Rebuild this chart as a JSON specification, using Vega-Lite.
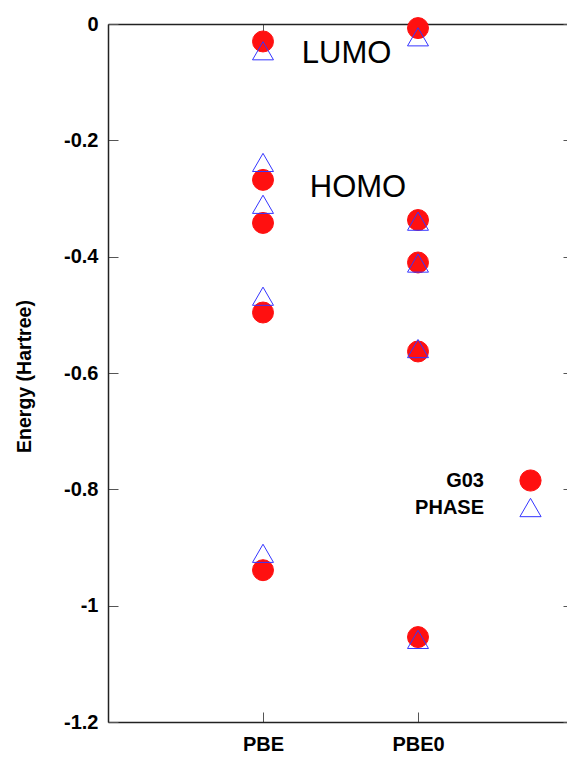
{
  "$schema": "https://vega.github.io/schema/vega-lite/v6.json",
  "autosize": {"type": "none"},
  "padding": {"left": 108, "top": 24, "right": -6, "bottom": 36},
  "width": 465,
  "height": 698,
  "background": "white",
  "config": {"view": {"stroke": null}, "font": "Liberation Sans"},
  "datasets": {
    "levels": [
      {"method": "PBE", "pos": 1, "series": "G03", "energy": -0.030},
      {"method": "PBE", "pos": 1, "series": "G03", "energy": -0.268},
      {"method": "PBE", "pos": 1, "series": "G03", "energy": -0.342},
      {"method": "PBE", "pos": 1, "series": "G03", "energy": -0.496},
      {"method": "PBE", "pos": 1, "series": "G03", "energy": -0.939},
      {"method": "PBE0", "pos": 2, "series": "G03", "energy": -0.007},
      {"method": "PBE0", "pos": 2, "series": "G03", "energy": -0.337},
      {"method": "PBE0", "pos": 2, "series": "G03", "energy": -0.410},
      {"method": "PBE0", "pos": 2, "series": "G03", "energy": -0.563},
      {"method": "PBE0", "pos": 2, "series": "G03", "energy": -1.054},
      {"method": "PBE", "pos": 1, "series": "PHASE", "energy": -0.046},
      {"method": "PBE", "pos": 1, "series": "PHASE", "energy": -0.238},
      {"method": "PBE", "pos": 1, "series": "PHASE", "energy": -0.310},
      {"method": "PBE", "pos": 1, "series": "PHASE", "energy": -0.468},
      {"method": "PBE", "pos": 1, "series": "PHASE", "energy": -0.910},
      {"method": "PBE0", "pos": 2, "series": "PHASE", "energy": -0.022},
      {"method": "PBE0", "pos": 2, "series": "PHASE", "energy": -0.339},
      {"method": "PBE0", "pos": 2, "series": "PHASE", "energy": -0.411},
      {"method": "PBE0", "pos": 2, "series": "PHASE", "energy": -0.558},
      {"method": "PBE0", "pos": 2, "series": "PHASE", "energy": -1.058}
    ],
    "notes": [
      {"label": "LUMO", "pos": 1.539, "energy": -0.067},
      {"label": "HOMO", "pos": 1.613, "energy": -0.2975}
    ]
  },
  "layer": [
    {
      "data": {"name": "levels"},
      "mark": {"type": "point", "opacity": 1, "strokeWidth": 1, "size": 440},
      "encoding": {
        "x": {
          "field": "pos", "type": "quantitative",
          "scale": {"domain": [0, 3], "nice": false, "zero": false},
          "axis": {
            "orient": "bottom", "values": [1, 2], "title": null, "grid": false,
            "labelExpr": "datum.value == 1 ? 'PBE' : 'PBE0'",
            "tickSize": -10, "tickColor": "#555", "tickWidth": 1,
            "domainColor": "#222", "domainWidth": 1.5,
            "labelFontSize": 20, "labelFontWeight": "bold", "labelColor": "#000",
            "labelFont": "Liberation Sans", "labelPadding": 22
          }
        },
        "y": {
          "field": "energy", "type": "quantitative",
          "scale": {"domain": [-1.2, 0], "nice": false, "zero": false},
          "axis": {
            "orient": "left", "values": [0, -0.2, -0.4, -0.6, -0.8, -1, -1.2],
            "grid": false,
            "labelExpr": "replace(format(datum.value, '~g'), '\u2212', '-')",
            "tickSize": -10, "tickColor": "#555", "tickWidth": 1,
            "domainColor": "#222", "domainWidth": 1.5,
            "labelFontSize": 20, "labelFontWeight": "bold", "labelColor": "#000",
            "labelFont": "Liberation Sans", "labelPadding": 20,
            "title": "Energy (Hartree)", "titleFontSize": 19.5, "titleFontWeight": "bold",
            "titleFont": "Liberation Sans", "titleColor": "#000",
            "titleX": -84, "titleY": 352, "titleAngle": -90,
            "titleAlign": "center", "titleBaseline": "middle"
          }
        },
        "shape": {
          "field": "series", "type": "nominal",
          "scale": {"domain": ["G03", "PHASE"], "range": ["circle", "triangle-up"]},
          "legend": {
            "orient": "none", "legendX": 411, "legendY": 445, "title": null,
            "labelFontSize": 20, "labelFontWeight": "bold", "labelFont": "Liberation Sans",
            "labelColor": "#000", "labelAlign": "right", "labelOffset": -58,
            "symbolSize": 450, "symbolStrokeWidth": 1, "rowPadding": 2
          }
        },
        "fill": {
          "field": "series", "type": "nominal",
          "scale": {"domain": ["G03", "PHASE"], "range": ["#ff1010", "transparent"]}
        },
        "stroke": {
          "field": "series", "type": "nominal",
          "scale": {"domain": ["G03", "PHASE"], "range": ["#ff1010", "#3535ff"]}
        }
      }
    },
    {
      "data": {"name": "notes"},
      "mark": {"type": "text", "fontSize": 31, "font": "Liberation Sans", "align": "center", "baseline": "alphabetic", "color": "#000"},
      "encoding": {
        "x": {
          "field": "pos", "type": "quantitative",
          "axis": {
            "orient": "top", "values": [1, 2], "labels": false, "title": null, "grid": false,
            "tickSize": -10, "tickColor": "#555", "tickWidth": 1,
            "domainColor": "#222", "domainWidth": 1.5
          }
        },
        "y": {
          "field": "energy", "type": "quantitative",
          "axis": {
            "orient": "right", "values": [0, -0.2, -0.4, -0.6, -0.8, -1, -1.2], "labels": false,
            "title": null, "grid": false,
            "tickSize": -10, "tickColor": "#555", "tickWidth": 1,
            "domainColor": "#222", "domainWidth": 1.5
          }
        },
        "text": {"field": "label"}
      }
    }
  ],
  "resolve": {"axis": {"x": "independent", "y": "independent"}}
}
